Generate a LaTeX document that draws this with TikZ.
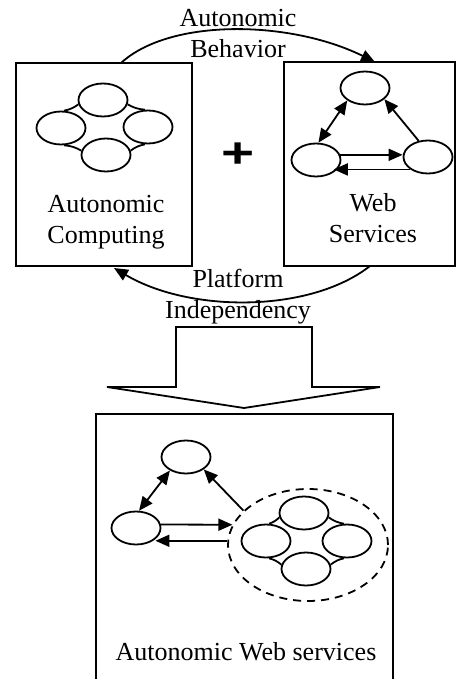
\documentclass[tikz,border=0pt]{standalone}
\usepackage{fontspec}
\setmainfont{Liberation Serif}
\setsansfont{Liberation Sans}
\usetikzlibrary{arrows.meta,shapes.geometric}

\tikzset{
  oval/.style={draw,ellipse,minimum width=24.5pt,minimum height=16.5pt,inner sep=0pt},
  cloud/.style={draw,ellipse,dashed,dash pattern=on 4pt off 3pt,minimum width=80pt,minimum height=56pt,inner sep=0pt},
  arr/.style={-{Triangle[length=7pt,width=6pt]}},
  darr/.style={{Triangle[length=7pt,width=6pt]}-{Triangle[length=7pt,width=6pt]}},
  lbl/.style={align=center,inner sep=0pt,font=\fontsize{13}{15.5}\selectfont}
}

\begin{document}
\begin{tikzpicture}[x=0.5pt,y=-0.5pt,line width=0.9pt]
\useasboundingbox (0,0) rectangle (456,679);

% the two upper boxes
\draw (16,63) rectangle (192,266);
\draw (284,62) rectangle (455,266);

% autonomic computing cluster
\node[oval] (ct) at (103,100) {};
\node[oval] (cl) at (61,128) {};
\node[oval] (cr) at (148,127) {};
\node[oval] (cb) at (106,155) {};
\draw (cl.80) to[bend right=12] (ct.190);
\draw (ct.350) to[bend right=12] (cr.100);
\draw (cr.260) to[bend right=12] (cb.10);
\draw (cb.170) to[bend right=12] (cl.280);
\node[lbl] (actext) at (106,222) {Autonomic\\Computing};

% web services triangle
\node[oval] (wt) at (365,88) {};
\node[oval] (wl) at (316,160) {};
\node[oval] (wr) at (428,157) {};
\draw[darr] (wt.215) -- (wl.82);
\draw[arr] (wr.120) -- (wt.330);
\draw[arr] (wl.12) -- (wl.12 -| wr.west);
\draw[arr] (wr.215) -- (wr.215 -| wl.325);
\node[lbl] (wstext) at (373,218) {Web\\Services};

% plus
\node[inner sep=0pt,font=\fontsize{21}{21}\selectfont\bfseries\sffamily] (plus) at (238,155) {\scalebox{1.35}[1]{+}};

% curved arrows between boxes
\coordinate (ab1) at (121,63);
\coordinate (ab2) at (375,62);
\draw[arr] (ab1) .. controls (170,18) and (290,20) .. (ab2);
\node[lbl] (abtext) at (238,34) {Autonomic\\Behavior};
\coordinate (pi1) at (370,266);
\coordinate (pi2) at (114,268);
\draw[arr] (pi1) .. controls (310,313) and (190,313) .. (pi2);
\node[lbl] (pitext) at (238,297) {Platform\\Independency};

% big down arrow
\draw (176,327) -- (312,327) -- (312,387) -- (380,387) -- (244,408)
  -- (107,387) -- (176,387) -- cycle;

% lower box
\draw (96,680) -- (96,414) -- (393,414) -- (393,680);

% autonomic web services
\node[oval] (bt) at (186,457) {};
\node[oval] (bl) at (136,528) {};
\node[cloud] (de) at (308,545) {};
\node[oval] (dt) at (304,513) {};
\node[oval] (dl) at (266,541) {};
\node[oval] (dr) at (347,541) {};
\node[oval] (db) at (306,569) {};
\draw (dl.80) to[bend right=12] (dt.190);
\draw (dt.350) to[bend right=12] (dr.100);
\draw (dr.260) to[bend right=12] (db.10);
\draw (db.170) to[bend right=12] (dl.280);
\draw[darr] (bt.220) -- (bl.80);
\draw[arr] (de.152) -- (bt.325);
\draw[arr] (bl.8) -- (de.165);
\draw[arr] (de.177) -- (de.177 -| bl.330);
\node[lbl] (awstext) at (246,652) {Autonomic Web services};
\end{tikzpicture}
\end{document}
